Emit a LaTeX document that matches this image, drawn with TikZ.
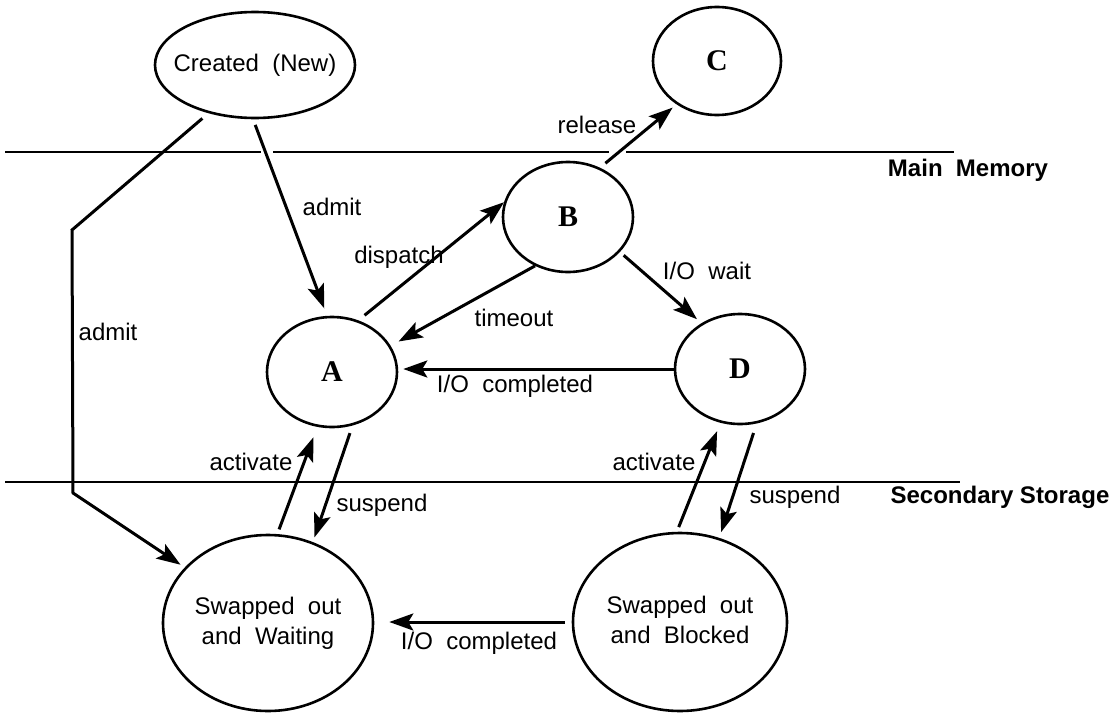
\documentclass[tikz,border=0pt]{standalone}
\usepackage{fontspec}
\setmainfont{Liberation Sans}
\newfontfamily\serifb{Liberation Serif}
\usetikzlibrary{shapes.geometric,arrows.meta}
\begin{document}
\begin{tikzpicture}[x=1pt,y=-1pt,
 state/.style={draw, line width=2.6pt, ellipse, inner sep=0pt, font=\fontsize{24}{30}\selectfont},
 letter/.style={font=\fontsize{30}{30}\selectfont\serifb\bfseries},
 lbl/.style={inner sep=0pt, font=\fontsize{24}{29}\selectfont},
 blbl/.style={inner sep=0pt, font=\fontsize{24}{29}\selectfont\bfseries},
 arr/.style={line width=3pt, -{Stealth[length=24pt,width=17pt,inset=5pt]}},
 sepline/.style={line width=2pt}]
\useasboundingbox (0,0) rectangle (1117,715);
% separators (broken where arrows cross, as in the original)
\draw[sepline] (5,152) -- (261,152);
\draw[sepline] (273,152) -- (609,152);
\draw[sepline] (626,152) -- (954,152);
\draw[sepline] (5,482) -- (960,482);
% states
\node[state, minimum width=200pt, minimum height=106pt] (new) at (255,65) {\makebox[0pt]{Created\ \ (New)}};
\node[state, letter, minimum width=128pt, minimum height=108pt] (C) at (717,61) {C};
\node[state, letter, minimum width=130pt, minimum height=110pt] (B) at (568,217) {B};
\node[state, letter, minimum width=130pt, minimum height=110pt] (A) at (332,372) {A};
\node[state, letter, minimum width=130pt, minimum height=110pt] (D) at (740,369) {D};
\node[state, minimum width=210pt, minimum height=176pt] (W) at (268,623) {\makebox[0pt]{\begin{tabular}{@{}c@{}}Swapped\ \ out\\and\ \ Waiting\end{tabular}}};
\node[state, minimum width=214pt, minimum height=178pt] (Bl) at (680,622) {\makebox[0pt]{\begin{tabular}{@{}c@{}}Swapped\ \ out\\and\ \ Blocked\end{tabular}}};
% connectors
\coordinate (k1) at (72,230);
\coordinate (k2) at (73,493);
\draw[arr, shorten <=6pt, shorten >=8pt] (new.268) -- (A.95);
\draw[arr, shorten <=8pt, shorten >=5pt] (new.226) -- (k1) -- (k2) -- (W);
\draw[arr, shorten <=8pt] (A.63) -- (B.167);
\draw[arr, shorten >=9pt] (B.236) -- (A.24);
\draw[arr, shorten >=5pt] (D.west) -- (D.west -| A.east);
\draw[arr, shorten <=5pt, shorten >=6pt] (B.326) -- (D.130);
\draw[arr, shorten <=7pt, shorten >=5pt] (B.57) -- (C.227);
\draw[arr, shorten <=5pt, shorten >=11pt] (W.84) -- (A.255);
\draw[arr, shorten <=8pt, shorten >=5pt] (A.291) -- (W.61);
\draw[arr, shorten <=5pt, shorten >=9pt] (Bl.92) -- (D.250);
\draw[arr, shorten <=10pt, shorten >=6pt] (D.287) -- (Bl.65);
\draw[arr, shorten <=7pt, shorten >=15pt] (Bl.west) -- (Bl.west -| W.east);
% labels
\node[lbl] (ladmit) at (332,207) {admit};
\node[lbl] (ladmit2) at (108,332) {admit};
\node[lbl] (ldisp) at (399,257) {dispatch};
\node[lbl] (lrel) at (597,125) {release};
\node[lbl] (ltime) at (514,318) {timeout};
\node[lbl] (lwait) at (707,271) {I/O\ \ wait};
\node[lbl] (lcomp) at (515,386) {I/O\ \ completed};
\node[lbl] (lact1) at (251,462) {activate};
\node[lbl] (lsus1) at (382,505) {suspend};
\node[lbl] (lact2) at (654,462) {activate};
\node[lbl] (lsus2) at (795,497) {suspend};
\node[lbl] (lcomp2) at (479,643) {I/O\ \ completed};
\node[blbl] (lmain) at (968,170) {Main\ \ Memory};
\node[blbl] (lsec) at (1000,497) {Secondary Storage};
\end{tikzpicture}
\end{document}
